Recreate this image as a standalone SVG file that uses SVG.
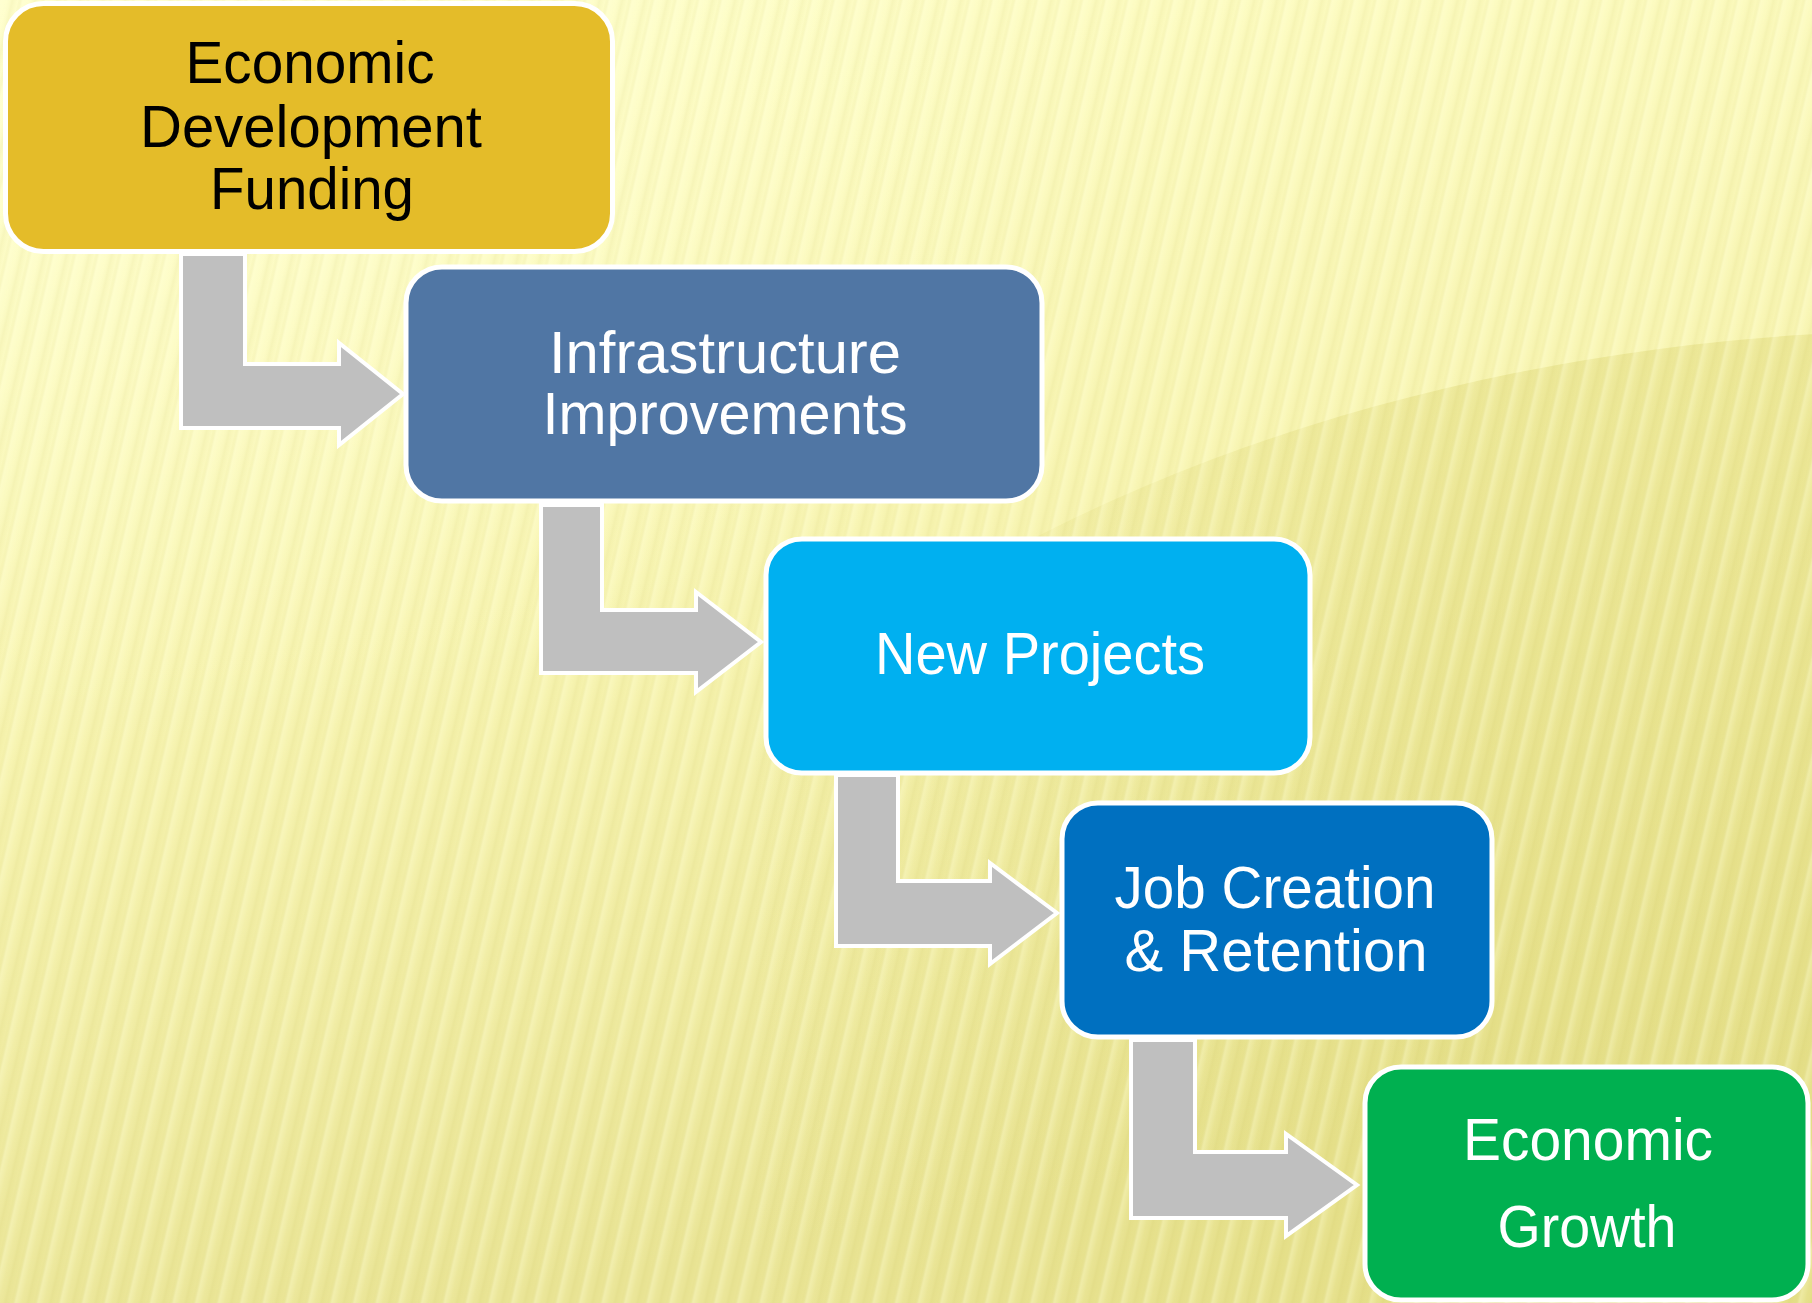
<svg xmlns="http://www.w3.org/2000/svg" width="1812" height="1303" viewBox="0 0 1812 1303">
<defs>
  <linearGradient id="bg" x1="0" y1="0" x2="0.25" y2="1">
    <stop offset="0" stop-color="#FFFFC8"/>
    <stop offset="0.5" stop-color="#F8F5B2"/>
    <stop offset="1" stop-color="#EAE596"/>
  </linearGradient>
  <radialGradient id="glow" cx="0.08" cy="0.02" r="0.55">
    <stop offset="0" stop-color="#FFFFD0" stop-opacity="0.8"/>
    <stop offset="1" stop-color="#FFFFD0" stop-opacity="0"/>
  </radialGradient>
  <linearGradient id="shade" gradientUnits="userSpaceOnUse" x1="750" y1="0" x2="1450" y2="0">
    <stop offset="0" stop-color="#DDD672" stop-opacity="0"/>
    <stop offset="1" stop-color="#DDD672" stop-opacity="0.4"/>
  </linearGradient>
  <linearGradient id="stripeG" x1="0" y1="0" x2="1" y2="0">
    <stop offset="0" stop-color="#FFFFD8" stop-opacity="0.35"/>
    <stop offset="0.3" stop-color="#FFFFD8" stop-opacity="0.05"/>
    <stop offset="0.55" stop-color="#C8C060" stop-opacity="0.12"/>
    <stop offset="0.8" stop-color="#C8C060" stop-opacity="0.02"/>
    <stop offset="1" stop-color="#FFFFD8" stop-opacity="0.35"/>
  </linearGradient>
  <pattern id="stripes" width="22" height="60" patternUnits="userSpaceOnUse" patternTransform="rotate(13)">
    <rect x="0" y="0" width="22" height="60" fill="url(#stripeG)"/>
  </pattern>
  <style>
    .node rect { stroke: #FFFFFF; stroke-width: 5; }
    .conn path { fill: #BFBFBF; stroke: #FFFFFF; stroke-width: 4; stroke-linejoin: miter; }
    text { font-family: "Liberation Sans Narrow", "Liberation Sans", Arial, sans-serif; font-size: 60px; text-anchor: middle; }
    .w { fill: #FFFFFF; }
    .b { fill: #000000; }
  </style>
</defs>
<rect x="0" y="0" width="1812" height="1303" fill="url(#bg)"/>
<ellipse cx="1950" cy="1330" rx="1500" ry="1000" fill="url(#shade)"/>
<rect x="0" y="0" width="1812" height="1303" fill="url(#glow)"/>
<rect x="0" y="0" width="1812" height="1303" fill="url(#stripes)"/>

<g id="connectors" class="conn">
  <path d="M181,254 L245,254 L245,364 L339,364 L339,343 L403,394 L339,445 L339,428 L181,428 Z"/>
  <path d="M541,505 L602,505 L602,610 L696,610 L696,592 L761,642 L696,692 L696,673 L541,673 Z"/>
  <path d="M836,775 L898,775 L898,881 L990,881 L990,863 L1057,913 L990,964 L990,946 L836,946 Z"/>
  <path d="M1131,1040 L1195,1040 L1195,1152 L1286,1152 L1286,1134 L1357,1185 L1286,1236 L1286,1218 L1131,1218 Z"/>
</g>

<g id="node-funding" class="node">
  <rect x="5.5" y="3.5" width="607" height="248" rx="38" fill="#E4BC29"/>
  <text class="b" x="310" y="83" textLength="249" lengthAdjust="spacingAndGlyphs">Economic</text>
  <text class="b" x="311" y="147" textLength="342" lengthAdjust="spacingAndGlyphs">Development</text>
  <text class="b" x="312" y="209" textLength="204" lengthAdjust="spacingAndGlyphs">Funding</text>
</g>

<g id="node-infrastructure" class="node">
  <rect x="406" y="267" width="636" height="234" rx="36" fill="#5076A4"/>
  <text class="w" x="725" y="373" textLength="352" lengthAdjust="spacingAndGlyphs">Infrastructure</text>
  <text class="w" x="725" y="434" textLength="365" lengthAdjust="spacingAndGlyphs">Improvements</text>
</g>

<g id="node-projects" class="node">
  <rect x="766" y="539" width="544" height="234" rx="36" fill="#00B0F0"/>
  <text class="w" x="1040" y="674" textLength="330" lengthAdjust="spacingAndGlyphs">New Projects</text>
</g>

<g id="node-jobs" class="node">
  <rect x="1062" y="803" width="430" height="234" rx="36" fill="#0070C0"/>
  <text class="w" x="1275" y="908" textLength="321" lengthAdjust="spacingAndGlyphs">Job Creation</text>
  <text class="w" x="1276" y="971" textLength="303" lengthAdjust="spacingAndGlyphs">&amp; Retention</text>
</g>

<g id="node-growth" class="node">
  <rect x="1365" y="1067" width="443" height="233" rx="36" fill="#00B050"/>
  <text class="w" x="1588" y="1160" textLength="250" lengthAdjust="spacingAndGlyphs">Economic</text>
  <text class="w" x="1587" y="1247" textLength="179" lengthAdjust="spacingAndGlyphs">Growth</text>
</g>
</svg>
